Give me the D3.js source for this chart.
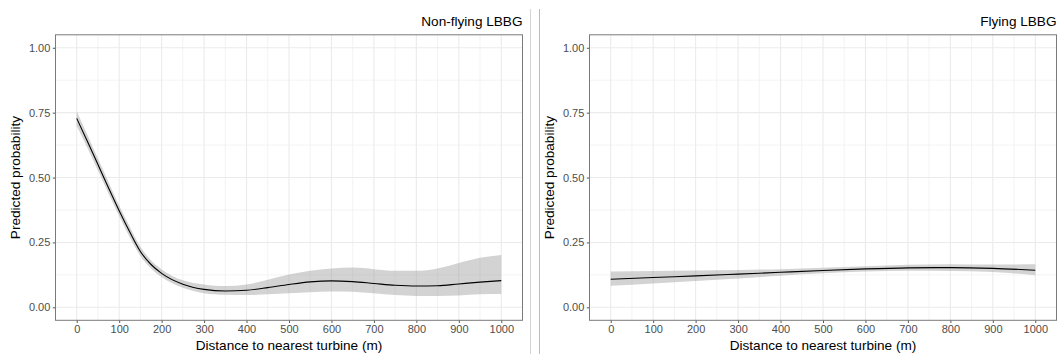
<!DOCTYPE html>
<html>
<head>
<meta charset="utf-8">
<script src="https://cdn.jsdelivr.net/npm/d3@7"></script>
<style>
  body { margin: 0; background: #fff; }
  svg { display: block; font-family: "Liberation Sans", Arial, sans-serif; }
</style>
</head>
<body>
<div id="chart"></div>
<script>
// distances (m) at which the fitted curves were read
const distLeft = [0, 25, 50, 75, 100, 125, 150, 175, 200, 250, 300, 350, 400, 450, 500, 550, 600, 650, 700, 750, 800, 850, 900, 950, 1000];
const fitLeft = [0.728, 0.640, 0.550, 0.460, 0.372, 0.290, 0.215, 0.165, 0.131, 0.089, 0.069, 0.063, 0.066, 0.076, 0.088, 0.098, 0.102, 0.099, 0.092, 0.085, 0.082, 0.083, 0.090, 0.097, 0.103];
const upperLeft = [0.755, 0.665, 0.573, 0.482, 0.392, 0.310, 0.233, 0.181, 0.146, 0.104, 0.088, 0.082, 0.088, 0.106, 0.126, 0.141, 0.150, 0.153, 0.147, 0.141, 0.141, 0.150, 0.171, 0.191, 0.202];
const lowerLeft = [0.700, 0.615, 0.527, 0.438, 0.352, 0.270, 0.198, 0.150, 0.117, 0.075, 0.054, 0.048, 0.047, 0.050, 0.054, 0.058, 0.061, 0.060, 0.054, 0.047, 0.044, 0.044, 0.046, 0.050, 0.051];

const distRight = [0, 100, 200, 300, 400, 500, 600, 700, 800, 900, 1000];
const fitRight = [0.108, 0.115, 0.121, 0.128, 0.135, 0.142, 0.148, 0.152, 0.153, 0.150, 0.143];
const upperRight = [0.138, 0.140, 0.142, 0.144, 0.147, 0.152, 0.158, 0.164, 0.166, 0.165, 0.166];
const lowerRight = [0.083, 0.092, 0.101, 0.111, 0.122, 0.131, 0.138, 0.141, 0.140, 0.136, 0.124];

const panelTitles = ['Non-flying LBBG', 'Flying LBBG'];
const xTicks = [0, 100, 200, 300, 400, 500, 600, 700, 800, 900, 1000];
const yTicks = [0, 0.25, 0.5, 0.75, 1];
const xLabel = 'Distance to nearest turbine (m)';
const yLabel = 'Predicted probability';

const W = 1061, H = 354;
const frame = { left: 55.5, right: 522.5, top: 34.8, bottom: 320.3 };
const panelOffset = 534;

const svg = d3.select('#chart').append('svg')
  .attr('width', W)
  .attr('height', H);

function drawPanel(g, dist, fit, upper, lower, title) {
  const x = d3.scaleLinear().domain([-50, 1050]).range([frame.left, frame.right]);
  const y = d3.scaleLinear().domain([-0.05, 1.05]).range([frame.bottom, frame.top]);

  // minor grid
  const xMinor = d3.range(50, 1000, 100);
  const yMinor = [0.125, 0.375, 0.625, 0.875];
  g.selectAll('.xminor').data(xMinor).enter().append('line')
    .attr('x1', d => x(d)).attr('x2', d => x(d))
    .attr('y1', frame.top).attr('y2', frame.bottom)
    .attr('stroke', '#f0f0f0').attr('stroke-width', 0.8);
  g.selectAll('.yminor').data(yMinor).enter().append('line')
    .attr('y1', d => y(d)).attr('y2', d => y(d))
    .attr('x1', frame.left).attr('x2', frame.right)
    .attr('stroke', '#f0f0f0').attr('stroke-width', 0.8);

  // major grid
  g.selectAll('.xmajor').data(xTicks).enter().append('line')
    .attr('x1', d => x(d)).attr('x2', d => x(d))
    .attr('y1', frame.top).attr('y2', frame.bottom)
    .attr('stroke', '#ebebeb').attr('stroke-width', 1.1);
  g.selectAll('.ymajor').data(yTicks).enter().append('line')
    .attr('y1', d => y(d)).attr('y2', d => y(d))
    .attr('x1', frame.left).attr('x2', frame.right)
    .attr('stroke', '#ebebeb').attr('stroke-width', 1.1);

  const rows = dist.map((d, i) => ({ d: d, fit: fit[i], lo: lower[i], hi: upper[i] }));

  const band = d3.area()
    .curve(d3.curveMonotoneX)
    .x(r => x(r.d))
    .y0(r => y(r.lo))
    .y1(r => y(r.hi));

  const line = d3.line()
    .curve(d3.curveMonotoneX)
    .x(r => x(r.d))
    .y(r => y(r.fit));

  g.append('path')
    .datum(rows)
    .attr('d', band)
    .attr('fill', 'rgba(150,150,150,0.42)');

  g.append('path')
    .datum(rows)
    .attr('d', line)
    .attr('fill', 'none')
    .attr('stroke', '#000')
    .attr('stroke-width', 1.1);

  // axes
  const xAxis = d3.axisBottom(x).tickValues(xTicks).tickSize(2.7).tickPadding(2.5).tickFormat(d3.format('d'));
  const yAxis = d3.axisLeft(y).tickValues(yTicks).tickSize(2.7).tickPadding(2.5).tickFormat(d3.format('.2f'));

  const xg = g.append('g').attr('transform', 'translate(0,' + frame.bottom + ')').call(xAxis);
  const yg = g.append('g').attr('transform', 'translate(' + frame.left + ',0)').call(yAxis);
  [xg, yg].forEach(a => {
    a.select('.domain').remove();
    a.selectAll('line').attr('stroke', '#555');
    a.selectAll('text').attr('fill', '#4d4d4d').style('font-size', '11px');
  });

  // frame
  g.append('rect')
    .attr('x', frame.left).attr('y', frame.top)
    .attr('width', frame.right - frame.left)
    .attr('height', frame.bottom - frame.top)
    .attr('fill', 'none')
    .attr('stroke', '#7a7a7a')
    .attr('stroke-width', 1);

  g.append('text')
    .attr('x', frame.right).attr('y', 26)
    .attr('text-anchor', 'end')
    .style('font-size', '13.6px')
    .text(title);

  g.append('text')
    .attr('x', (frame.left + frame.right) / 2).attr('y', 350)
    .attr('text-anchor', 'middle')
    .style('font-size', '13.6px')
    .text(xLabel);

  g.append('text')
    .attr('transform', 'translate(20,' + ((frame.top + frame.bottom) / 2) + ') rotate(-90)')
    .attr('text-anchor', 'middle')
    .style('font-size', '13.6px')
    .text(yLabel);
}

drawPanel(svg.append('g'), distLeft, fitLeft, upperLeft, lowerLeft, panelTitles[0]);
drawPanel(svg.append('g').attr('transform', 'translate(' + panelOffset + ',0)'),
  distRight, fitRight, upperRight, lowerRight, panelTitles[1]);

// separator between the two plots
svg.append('line')
  .attr('x1', 530.5).attr('x2', 530.5).attr('y1', 9).attr('y2', H)
  .attr('stroke', '#d4d4d4').attr('stroke-width', 1);
svg.append('line')
  .attr('x1', 539.5).attr('x2', 539.5).attr('y1', 9).attr('y2', H)
  .attr('stroke', '#bcbcbc').attr('stroke-width', 1);
</script>
</body>
</html>
